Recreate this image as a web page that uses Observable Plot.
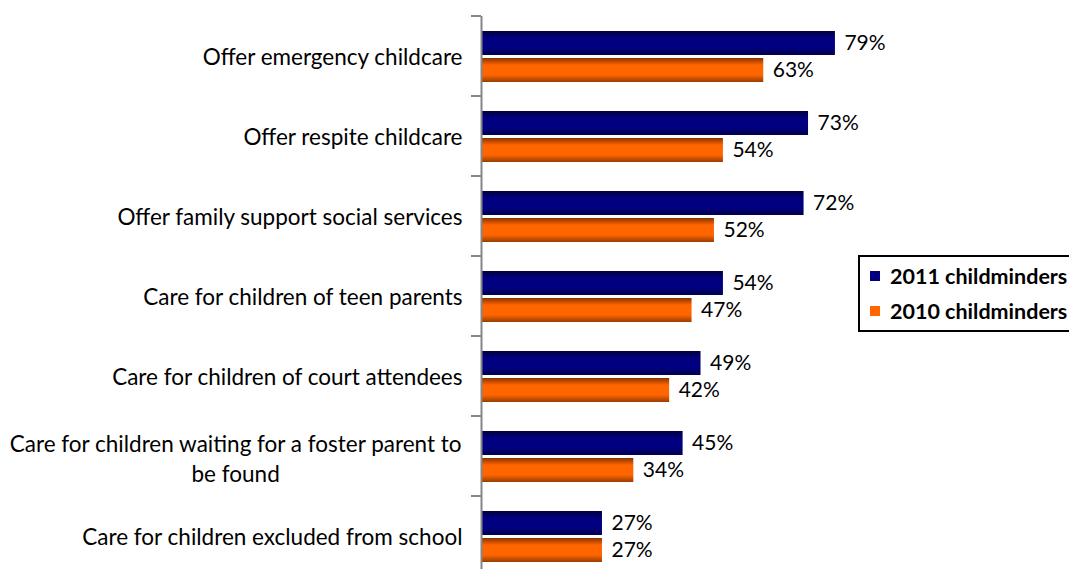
<!DOCTYPE html>
<html>
<head>
<meta charset="utf-8">
<script src="https://cdn.jsdelivr.net/npm/d3@7"></script>
<script src="https://cdn.jsdelivr.net/npm/@observablehq/plot@0.6"></script>
<style>
  html, body { margin: 0; padding: 0; background: #fff; overflow: hidden; }
  #wrap { position: relative; width: 1069px; height: 569px; overflow: hidden; }
  #chart svg { display: block; }
  #legend { position: absolute; left: 858px; top: 255px; width: 250px; height: 73px;
    border: 2px solid #000; background: #fff; font-family: Lato, sans-serif; font-weight: bold;
    font-size: 21.5px; color: #000; }
  #legend .row { position: absolute; left: 10px; display: flex; align-items: center; white-space: nowrap; }
  #legend .sw { width: 10px; height: 10px; margin-right: 10px; }
</style>
</head>
<body>
<div id="wrap">
  <div id="chart"></div>
  <div id="legend"></div>
</div>
<script>
const categories = [
  "Offer emergency childcare",
  "Offer respite childcare",
  "Offer family support social services",
  "Care for children of teen parents",
  "Care for children of court attendees",
  "Care for children waiting for a foster parent to\nbe found",
  "Care for children excluded from school"
];
const values2011 = [79, 73, 72, 54, 49, 45, 27];
const values2010 = [63, 54, 52, 47, 42, 34, 27];
const seriesNames = ["2011 childminders", "2010 childminders"];
const seriesColors = ["#000080", "#FF6600"];

const FONT = "Lato";
const FS = 22.5;
const VFS = 21;

const data2011 = categories.map((c, i) => ({category: c, value: values2011[i]}));
const data2010 = categories.map((c, i) => ({category: c, value: values2010[i]}));
const singleLabels = categories.filter(c => !c.includes("\n"));
const multiLabels = categories.filter(c => c.includes("\n"));

const ctx = document.createElement("canvas").getContext("2d");
ctx.font = `${FS}px ${FONT}`;
const firstLineWidth = c => ctx.measureText(c.split("\n")[0]).width;

function boundaryTicks(index, scales) {
  const y = scales.y, x = scales.x;
  const x0 = x(0);
  const starts = categories.map(c => y(c));
  const step = starts[1] - starts[0];
  const ys = [...starts, starts[starts.length - 1] + step];
  const g = document.createElementNS("http://www.w3.org/2000/svg", "g");
  for (const v of ys) {
    const l = document.createElementNS("http://www.w3.org/2000/svg", "line");
    l.setAttribute("x1", x0 - 10); l.setAttribute("x2", x0);
    l.setAttribute("y1", v); l.setAttribute("y2", v);
    l.setAttribute("stroke", "#868686"); l.setAttribute("stroke-width", 2);
    g.appendChild(l);
  }
  return g;
}

const marks = [
  Plot.barX(data2011, {x: "value", y: "category", fill: "url(#g2011)", insetTop: 15, insetBottom: 41}),
  Plot.barX(data2010, {x: "value", y: "category", fill: "url(#g2010)", insetTop: 42, insetBottom: 14}),
  Plot.text(data2011, {x: "value", y: "category", text: d => d.value + "%", textAnchor: "start", dx: 9, dy: -13, fill: "#000", fontSize: VFS}),
  Plot.text(data2010, {x: "value", y: "category", text: d => d.value + "%", textAnchor: "start", dx: 9, dy: 14, fill: "#000", fontSize: VFS}),
  Plot.ruleX([0], {stroke: "#868686", strokeWidth: 2}),
  boundaryTicks,
  Plot.text(singleLabels, {y: d => d, x: 0, text: d => d, textAnchor: "end", dx: -19, dy: 1, fill: "#000"}),
  ...multiLabels.map(c => Plot.text([c], {y: d => d, x: 0, text: d => d, textAnchor: "middle",
      dx: -19 - firstLineWidth(c) / 2, dy: 1, lineHeight: 1.33, fill: "#000"}))
];

const svg = Plot.plot({
  width: 1069,
  height: 577,
  marginTop: 16,
  marginBottom: 1,
  marginLeft: 481,
  marginRight: 140,
  style: {fontFamily: FONT, fontSize: FS + "px", background: "#fff", overflow: "visible"},
  x: {domain: [0, 100], axis: null},
  y: {domain: categories, padding: 0, axis: null},
  marks
});

const defs = d3.select(svg).insert("defs", ":first-child");
function grad(id, edgeTop, mid, edgeBot) {
  const lg = defs.append("linearGradient").attr("id", id).attr("x1", 0).attr("y1", 0).attr("x2", 0).attr("y2", 1);
  lg.append("stop").attr("offset", "0%").attr("stop-color", edgeTop);
  lg.append("stop").attr("offset", "30%").attr("stop-color", mid);
  lg.append("stop").attr("offset", "70%").attr("stop-color", mid);
  lg.append("stop").attr("offset", "100%").attr("stop-color", edgeBot);
}
grad("g2011", "#00003c", seriesColors[0], "#00004a");
grad("g2010", "#8a3300", seriesColors[1], "#9a3d00");

document.getElementById("chart").appendChild(svg);

const legend = document.getElementById("legend");
seriesNames.forEach((name, i) => {
  const row = document.createElement("div");
  row.className = "row";
  row.style.top = (i === 0 ? 6 : 41) + "px";
  const sw = document.createElement("div");
  sw.className = "sw";
  sw.style.background = seriesColors[i];
  const t = document.createElement("span");
  t.textContent = name;
  row.appendChild(sw); row.appendChild(t);
  legend.appendChild(row);
});
</script>
</body>
</html>
